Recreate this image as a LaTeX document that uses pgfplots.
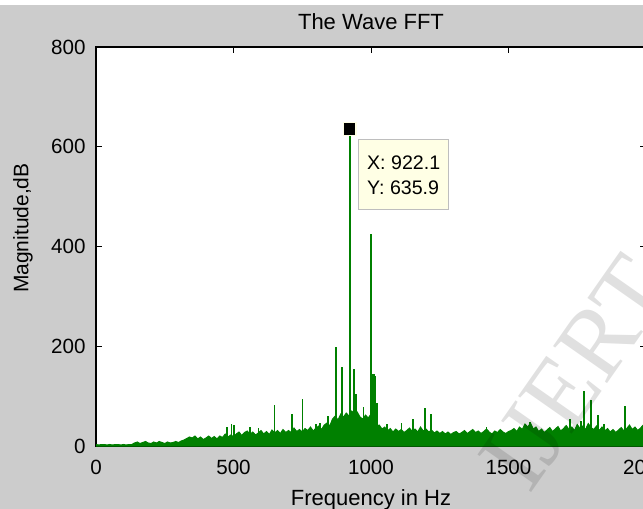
\documentclass[border=0pt]{standalone}
\usepackage{fontspec}
\setmainfont{Liberation Sans}
\newfontfamily\wmfont{Liberation Serif}
\usepackage{pgfplots}
\pgfplotsset{compat=1.18}
\definecolor{figgray}{RGB}{204,204,204}
\definecolor{fftgreen}{RGB}{0,128,0}
\definecolor{tipfill}{RGB}{255,255,229}
\definecolor{tipedge}{RGB}{190,190,190}

\begin{document}
\begin{tikzpicture}[x=1pt,y=1pt]
\useasboundingbox (0,0) rectangle (321.5,254.5);
\fill[white] (0,0) rectangle (321.5,254.5);
\fill[figgray] (0,0) rectangle (321.5,252);
\begin{scope}
\clip (0,0) rectangle (321.5,254.5);
\begin{axis}[
  at={(48pt,31.5pt)}, anchor=south west,
  width=275pt, height=199.5pt, scale only axis,
  xmin=0, xmax=2000, ymin=0, ymax=800,
  xtick={0,500,1000,1500,2000},
  ytick={0,200,400,600,800},
  axis background/.style={fill=white},
  axis line style={black, line width=0.6pt},
  tick style={black, line width=0.5pt},
  tick align=inside, major tick length=3pt,
  /pgf/number format/assume math mode=true,
  /pgf/number format/1000 sep={},
  tick label style={font=\fontsize{10.3}{12}\selectfont, inner sep=0pt},
  xticklabel style={anchor=base, yshift=-14.2pt},
  yticklabel style={anchor=east, xshift=-5pt},
  title={The Wave FFT},
  title style={at={(axis description cs:0.5,1.0326)}, anchor=center,
    font=\fontsize{11}{13}\selectfont},
  xlabel={Frequency in Hz},
  xlabel style={at={(axis description cs:0.5,-0.1353)}, anchor=center,
    font=\fontsize{11}{13}\selectfont},
  ylabel={Magnitude,dB},
  ylabel style={at={(axis description cs:-0.1327,0.546)}, anchor=center,
    font=\fontsize{10.5}{12}\selectfont},
]
% noise floor of the spectrum (envelope, sampled every 10 Hz)
\addplot[fill=fftgreen, draw=fftgreen, line width=0.5pt] coordinates {
(0,3)(10,2)(20,3)(30,3)(40,2)(50,3)(60,2)(70,3)(80,3)(90,2)(100,3)(110,2)(120,3)(130,3)
(140,6)(150,8)(160,5)(170,7)(180,9)(190,6)(200,5)(210,8)(220,6)(230,9)(240,7)(250,5)
(260,8)(270,6)(280,7)(290,9)(300,7)(310,10)(320,12)(330,15)
(340,18)(350,16)(360,20)(370,14)(380,18)(390,13)(400,16)(410,20)(420,15)(430,19)
(440,14)(450,20)(460,17)(470,24)(480,18)(490,22)(500,19)
(510,24)(520,28)(530,21)(540,27)(550,30)(560,23)(570,28)(580,22)(590,26)(600,31)
(610,24)(620,29)(630,23)(640,32)(650,26)(660,31)(670,25)(680,33)(690,27)(700,31)
(710,27)(720,36)(730,29)(740,33)(750,28)(760,35)(770,31)(780,38)(790,30)(800,36)
(810,40)(820,33)(830,42)(840,46)(850,40)(860,54)(870,60)(880,52)(890,64)(900,58)
(910,66)(920,60)(930,70)(940,64)(950,68)(960,58)(970,54)(980,62)(990,56)(1000,64)
(1010,52)(1020,40)(1030,42)(1040,34)(1050,38)(1060,30)(1070,35)(1080,28)(1090,34)(1100,29)
(1110,33)(1120,27)(1130,31)(1140,36)(1150,29)(1160,34)(1170,28)(1180,38)(1190,30)(1200,34)
(1210,28)(1220,32)(1230,26)(1240,30)(1250,25)(1260,29)(1270,24)(1280,28)(1290,23)(1300,27)
(1310,29)(1320,24)(1330,27)(1340,31)(1350,25)(1360,29)(1370,33)(1380,27)(1390,30)(1400,25)
(1410,29)(1420,34)(1430,28)(1440,24)(1450,30)(1460,27)(1470,33)(1480,28)(1490,25)(1500,29)
(1510,31)(1520,35)(1530,29)(1540,38)(1550,33)(1560,44)(1570,38)(1580,46)(1590,34)(1600,38)
(1610,29)(1620,34)(1630,27)(1640,32)(1650,37)(1660,29)(1670,34)(1680,39)(1690,30)(1700,35)
(1710,41)(1720,33)(1730,38)(1740,31)(1750,43)(1760,35)(1770,40)(1780,33)(1790,45)(1800,37)
(1810,33)(1820,40)(1830,31)(1840,38)(1850,30)(1860,35)(1870,28)(1880,33)(1890,27)(1900,32)
(1910,37)(1920,30)(1930,35)(1940,42)(1950,33)(1960,38)(1970,31)(1980,36)(1990,42)(2000,33)
} \closedcycle;
% isolated spectral lines
\addplot[ycomb, draw=fftgreen, line width=0.7pt] coordinates {
(476,38)(492,44)(502,42)(560,38)(590,36)(648,82)(712,64)(750,94)(800,45)(814,46)(844,60)
(873,198)(895,158)(938,154)(945,104)(973,78)
(1003,144)(1007,144)(1011,144)(1014,140)(1022,86)
(1058,44)(1110,46)(1153,54)(1196,76)(1218,64)(1421,38)(1578,48)
(1723,54)(1763,50)(1774,110)(1800,92)(1825,62)(1847,44)(1924,80)
};
\addplot[ycomb, draw=fftgreen, line width=1pt] coordinates {
(922.1,635.9)(1000,426)
};
% data tip
\addplot[only marks, mark=square*, mark size=3.2pt,
  mark options={fill=black, draw=tipfill, line width=0.6pt}]
  coordinates {(922.1,635.9)};
\node[draw=tipedge, fill=tipfill, anchor=north west, line width=0.6pt,
  minimum width=45pt, minimum height=35pt, inner sep=3pt, align=left,
  font=\fontsize{9.8}{12.5}\selectfont]
  at (axis cs:953,615) {X: 922.1\\Y: 635.9};
\end{axis}
% watermark
\node[rotate=55, text=black, opacity=0.12,
  font=\wmfont\fontsize{50}{50}\selectfont] at (288,68) {IJERT};
\end{scope}
\end{tikzpicture}
\end{document}
